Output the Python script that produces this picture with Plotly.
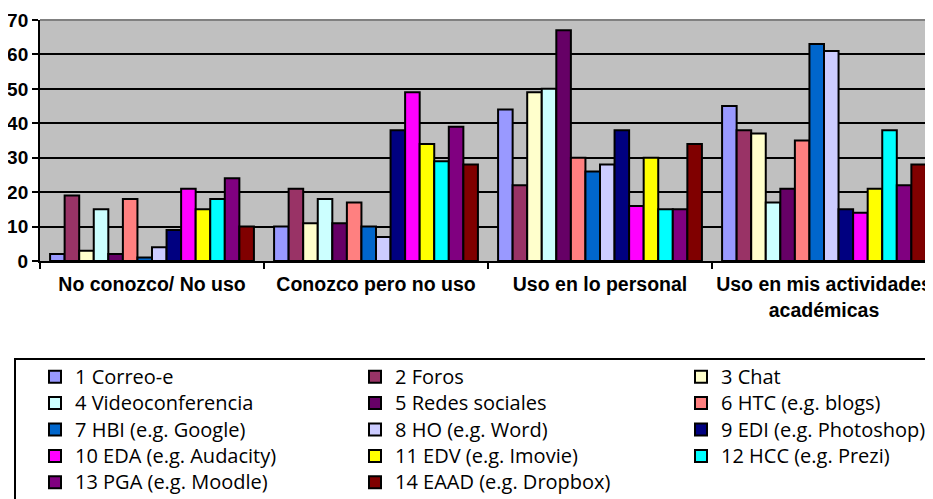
import plotly.graph_objects as go

categories = ["No conozco/ No uso", "Conozco pero no uso", "Uso en lo personal",
              "Uso en mis actividades<br>académicas"]

series_names = ["1 Correo-e", "2 Foros", "3 Chat", "4 Videoconferencia", "5 Redes sociales",
                "6 HTC (e.g. blogs)", "7 HBI (e.g. Google)", "8 HO (e.g. Word)",
                "9 EDI (e.g. Photoshop)", "10 EDA (e.g. Audacity)", "11 EDV (e.g. Imovie)",
                "12 HCC (e.g. Prezi)", "13 PGA (e.g. Moodle)", "14 EAAD (e.g. Dropbox)"]

correo = [2, 10, 44, 45]
foros = [19, 21, 22, 38]
chat = [3, 11, 49, 37]
videoconferencia = [15, 18, 50, 17]
redes = [2, 11, 67, 21]
htc = [18, 17, 30, 35]
hbi = [1, 10, 26, 63]
ho = [4, 7, 28, 61]
edi = [9, 38, 38, 15]
eda = [21, 49, 16, 14]
edv = [15, 34, 30, 21]
hcc = [18, 29, 15, 38]
pga = [24, 39, 15, 22]
eaad = [10, 28, 34, 28]

series_values = [correo, foros, chat, videoconferencia, redes, htc, hbi, ho,
                 edi, eda, edv, hcc, pga, eaad]

colors = ["#9999FF", "#993366", "#FFFFCC", "#CCFFFF", "#660066", "#FF8080", "#0066CC",
          "#CCCCFF", "#000080", "#FF00FF", "#FFFF00", "#00FFFF", "#800080", "#800000"]

y_ticks = [0, 10, 20, 30, 40, 50, 60, 70]

legend_ids = ["legend", "legend2", "legend3"]

fig = go.Figure()
for i, (name, vals, col) in enumerate(zip(series_names, series_values, colors)):
    fig.add_trace(go.Bar(
        x=categories, y=vals,
        name='<span style="font-size:20px">' + name + '</span>',
        marker=dict(color=col, line=dict(color="black", width=2)),
        legend=legend_ids[i % 3],
    ))

# the page body adds an 8px offset; the figure is sized to fill the rest of the window
OFF = 8
W, H = 933 - OFF, 499 - OFF
ml, mr, mt, mb = 32, 0, 12, 238
pw = W - ml - mr
ph = H - mt - mb


def px_x(page_x):
    return (page_x - OFF - ml) / pw


def px_y(page_y):
    return (H - mb - (page_y - OFF)) / ph


legend_font = dict(family="Open Sans", size=18, color="black")
common_legend = dict(orientation="v", xanchor="left", yanchor="top",
                     bgcolor="rgba(0,0,0,0)", borderwidth=0, font=legend_font,
                     traceorder="normal")

fig.update_layout(
    template="none",
    width=W, height=H,
    margin=dict(l=ml, r=mr, t=mt, b=mb, autoexpand=False),
    paper_bgcolor="white",
    plot_bgcolor="#C0C0C0",
    barmode="group",
    bargap=0.09,
    bargroupgap=0,
    legend=dict(x=px_x(35), y=px_y(358.5), **common_legend),
    legend2=dict(x=px_x(355), y=px_y(358.5), **common_legend),
    legend3=dict(x=px_x(681), y=px_y(358.5), **common_legend),
    xaxis=dict(
        range=[-0.5, 3.5 - 3 / 224],
        showline=True, linecolor="black", linewidth=2,
        ticks="outside", tickson="boundaries", ticklen=6, tickwidth=2, tickcolor="black",
        tickangle=0, showgrid=False, automargin=False, ticklabelstandoff=5,
        tickfont=dict(family="Liberation Sans", size=19.5, color="black", weight="bold"),
    ),
    yaxis=dict(
        range=[0, 70], tickvals=y_ticks,
        showline=True, linecolor="black", linewidth=2,
        ticks="outside", ticklen=6, tickwidth=2, tickcolor="black",
        showgrid=True, gridcolor="black", gridwidth=2, zeroline=False, automargin=False,
        tickfont=dict(family="Liberation Sans", size=19, color="black", weight="bold"),
    ),
    shapes=[
        dict(type="line", xref="paper", yref="paper", x0=0, x1=1, y0=1, y1=1,
             line=dict(color="#808080", width=2)),
        dict(type="rect", xref="paper", yref="paper",
             x0=px_x(15), x1=px_x(945), y0=px_y(359), y1=px_y(520),
             line=dict(color="black", width=2), fillcolor="rgba(0,0,0,0)"),
    ],
)

fig.write_html("out.html")
